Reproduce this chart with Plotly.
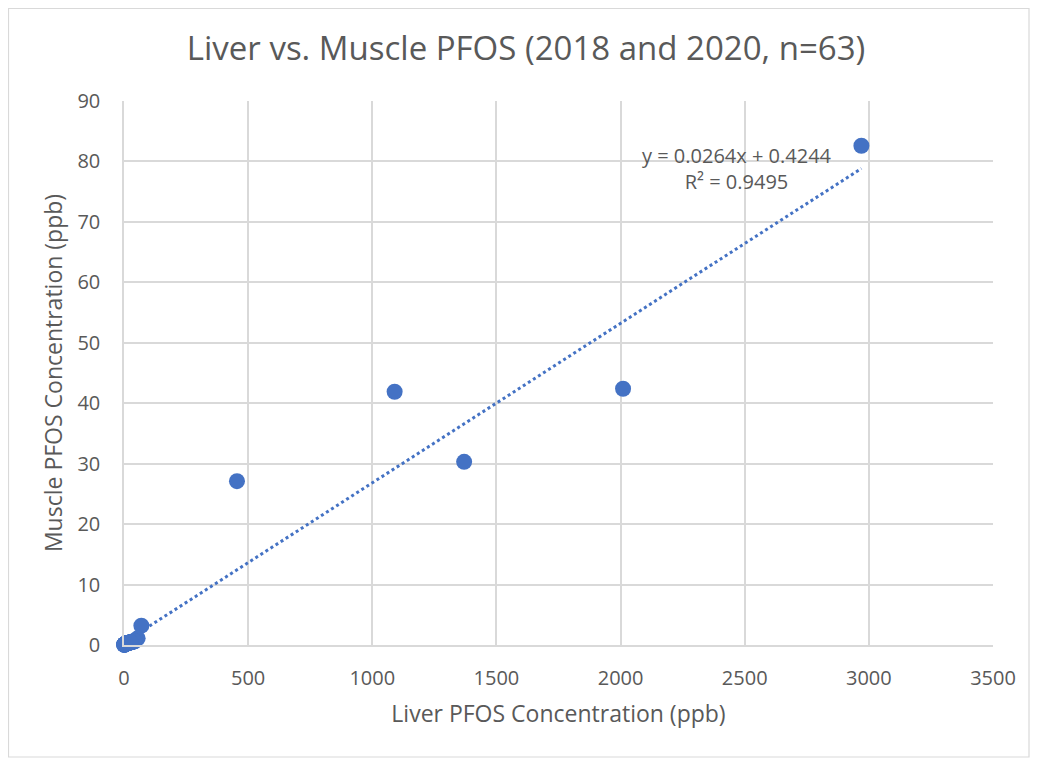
import plotly.graph_objects as go

# Liver vs muscle PFOS (ppb), n = 63
liver = [2970, 2010, 1370, 1090, 455, 70, 55,
         1.2, 1.5, 1.8, 2.0, 2.3, 2.6, 3.0, 3.2, 3.5, 3.9,
         4.2, 4.6, 5.0, 5.4, 5.9, 6.3, 6.8, 7.2, 7.8, 8.3,
         8.9, 9.5, 10.1, 10.8, 11.5, 12.2, 13.0, 13.8, 14.6, 15.5,
         16.4, 17.3, 18.3, 19.4, 20.5, 21.7, 23.0, 24.3, 25.7, 27.2,
         28.8, 30.4, 32.1, 34.0, 36.0, 38.1, 40.3, 42.6, 0.8, 1.0,
         3.7, 6.0, 9.1, 12.7, 18.9, 26.5]
muscle = [82.6, 42.4, 30.3, 41.9, 27.1, 3.2, 1.1,
          0.05, 0.06, 0.07, 0.08, 0.09, 0.10, 0.10, 0.11, 0.12, 0.13,
          0.14, 0.15, 0.16, 0.17, 0.18, 0.19, 0.20, 0.21, 0.22, 0.23,
          0.24, 0.25, 0.26, 0.27, 0.28, 0.29, 0.30, 0.31, 0.32, 0.33,
          0.34, 0.35, 0.36, 0.37, 0.38, 0.39, 0.40, 0.42, 0.44, 0.46,
          0.48, 0.50, 0.52, 0.54, 0.56, 0.58, 0.60, 0.62, 0.04, 0.05,
          0.12, 0.18, 0.25, 0.30, 0.36, 0.45]

slope = 0.0264
intercept = 0.4244
r2 = 0.9495
trend_x = [min(liver), max(liver)]
trend_y = [slope * v + intercept for v in trend_x]

x_ticks = [0, 500, 1000, 1500, 2000, 2500, 3000, 3500]
y_ticks = [0, 10, 20, 30, 40, 50, 60, 70, 80, 90]

blue = "#4472C4"
grey_text = "#595959"
grid = "#D9D9D9"
font_family = "Open Sans, Liberation Sans, DejaVu Sans, sans-serif"

W, H = 1022, 750
ML, MR, MT, MB = 116, 37, 93, 113
PW, PH = W - ML - MR, H - MT - MB

fig = go.Figure()
fig.add_trace(go.Scatter(
    x=trend_x, y=trend_y, mode="lines",
    line=dict(color=blue, width=3, dash="dot"),
    hoverinfo="skip", showlegend=False,
))
fig.add_trace(go.Scatter(
    x=liver, y=muscle, mode="markers",
    marker=dict(color=blue, size=16, line=dict(width=0)),
    cliponaxis=False, showlegend=False,
))

fig.add_annotation(
    x=2470, y=78.9, xref="x", yref="y",
    text=f"y = {slope}x + {intercept}<br>R² = {r2}",
    showarrow=False, align="center",
    font=dict(family=font_family, size=20, color=grey_text),
)

fig.add_shape(type="rect", xref="paper", yref="paper",
              x0=(0.5 - ML) / PW, x1=(W - 1.0 - ML) / PW,
              y0=(PH + MT - (H - 1.0)) / PH, y1=(PH + MT - 0.5) / PH,
              line=dict(color=grid, width=1.2), fillcolor="rgba(0,0,0,0)",
              layer="below")

fig.update_layout(
    width=W, height=H,
    paper_bgcolor="white", plot_bgcolor="white",
    margin=dict(l=ML, r=MR, t=MT, b=MB),
    title=dict(text="Liver vs. Muscle PFOS (2018 and 2020, n=63)",
               x=(526 - 8) / W, xanchor="center",
               y=1 - 40 / H, yanchor="middle",
               font=dict(family=font_family, size=33, color=grey_text)),
    font=dict(family=font_family, color=grey_text),
)
fig.update_xaxes(
    range=[0, 3500], tickvals=x_ticks, ticktext=[str(v) for v in x_ticks],
    showgrid=True, gridcolor=grid, gridwidth=1.5,
    showline=True, linecolor=grid, linewidth=1.5,
    zeroline=False, ticks="", ticklabelstandoff=14,
    tickfont=dict(size=20, color=grey_text),
    title=dict(text="Liver PFOS Concentration (ppb)",
               font=dict(size=23, color=grey_text), standoff=16),
)
fig.update_yaxes(
    range=[0, 90], tickvals=y_ticks, ticktext=[str(v) for v in y_ticks],
    showgrid=True, gridcolor=grid, gridwidth=1.5,
    showline=True, linecolor=grid, linewidth=1.5,
    zeroline=False, ticks="", ticklabelstandoff=18,
    tickfont=dict(size=20, color=grey_text),
    title=dict(text="Muscle PFOS Concentration (ppb)",
               font=dict(size=23, color=grey_text), standoff=8),
)

fig.write_html("out.html")
